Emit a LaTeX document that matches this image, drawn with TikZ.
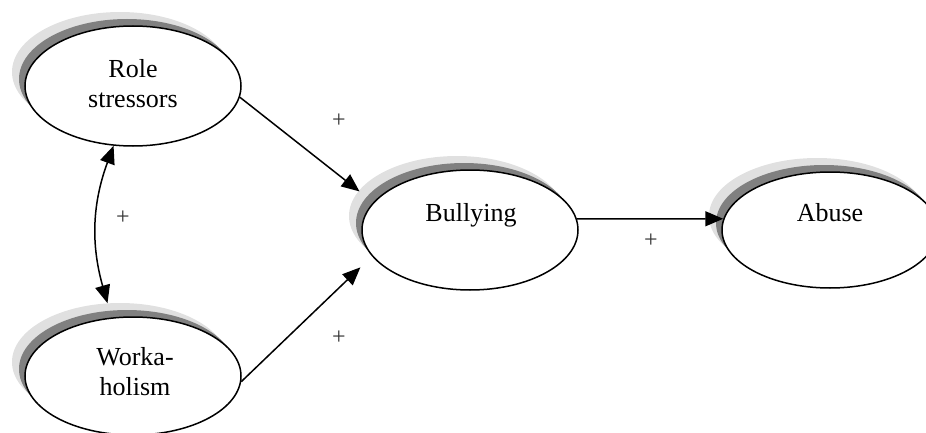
\documentclass[tikz,border=0pt]{standalone}
\usepackage{fontspec}
\setmainfont{Liberation Serif}
\usetikzlibrary{shapes.geometric,arrows.meta}
\tikzset{
  bubble/.style={ellipse, draw=black, line width=1.5pt, fill=white, inner sep=0pt, minimum width=216pt, minimum height=#1},
  bubble/.default=120pt,
  shadowdark/.style={ellipse, fill=black!50, draw=none, inner sep=0pt, minimum width=216pt, minimum height=#1},
  shadowdark/.default=120pt,
  shadowlight/.style={ellipse, fill=black!12, draw=none, inner sep=0pt, minimum width=216pt, minimum height=#1},
  shadowlight/.default=120pt,
  lbl/.style={font=\fontsize{26}{30}\selectfont, align=center, anchor=base, inner sep=0pt},
  sign/.style={font=\fontsize{24}{28}\selectfont, text=black!80, inner sep=0pt},
  tip/.style={Triangle[length=18pt,width=15pt]},
  link/.style={line width=1.5pt, -{Triangle[length=18pt,width=15pt]}},
  dlink/.style={line width=1.5pt, {Triangle[length=18pt,width=15pt]}-{Triangle[length=18pt,width=15pt]}}
}
\begin{document}
\begin{tikzpicture}[x=1pt,y=-1pt]
\useasboundingbox (0,0) rectangle (926,433);
\clip (0,0) rectangle (926,433);
% shadows
\node[shadowlight] (roleL) at (120,72) {};
\node[shadowdark] (roleD) at (127,79) {};
\node[bubble] (role) at (133,86) {};
\node[shadowlight=118pt] (workL) at (120,362) {};
\node[shadowdark=118pt] (workD) at (127,369) {};
\node[bubble=118pt] (work) at (133,376) {};
\node[shadowlight] (bullL) at (457,216) {};
\node[shadowdark] (bullD) at (464,223) {};
\node[bubble] (bull) at (470,230) {};
\node[shadowlight=116pt] (abuseL) at (817,216) {};
\node[shadowdark=116pt] (abuseD) at (824,223) {};
\node[bubble=116pt] (abuse) at (830,230) {};
% texts
\node[lbl] (roleT) at (133,108) {Role\\stressors};
\node[lbl] (workT) at (135,395) {Worka-\\holism};
\node[lbl] (bullT) at (471,221) {Bullying};
\node[lbl] (abuseT) at (830,221) {Abuse};
% connectors
\draw[link, shorten >=17.5pt] (role.-6) -- (bull.164.3);
\draw[link, shorten >=16pt] (work.-3) -- (bull.195.4);
\draw[link] (bull.6) -- (abuse.174);
\draw[dlink] (role.-108) to[bend right=18] (workL.102);
% signs
\node[sign] (p1) at (339,121) {+};
\node[sign] (p2) at (123,218) {+};
\node[sign] (p3) at (339,338) {+};
\node[sign] (p4) at (651,241) {+};
\end{tikzpicture}
\end{document}
